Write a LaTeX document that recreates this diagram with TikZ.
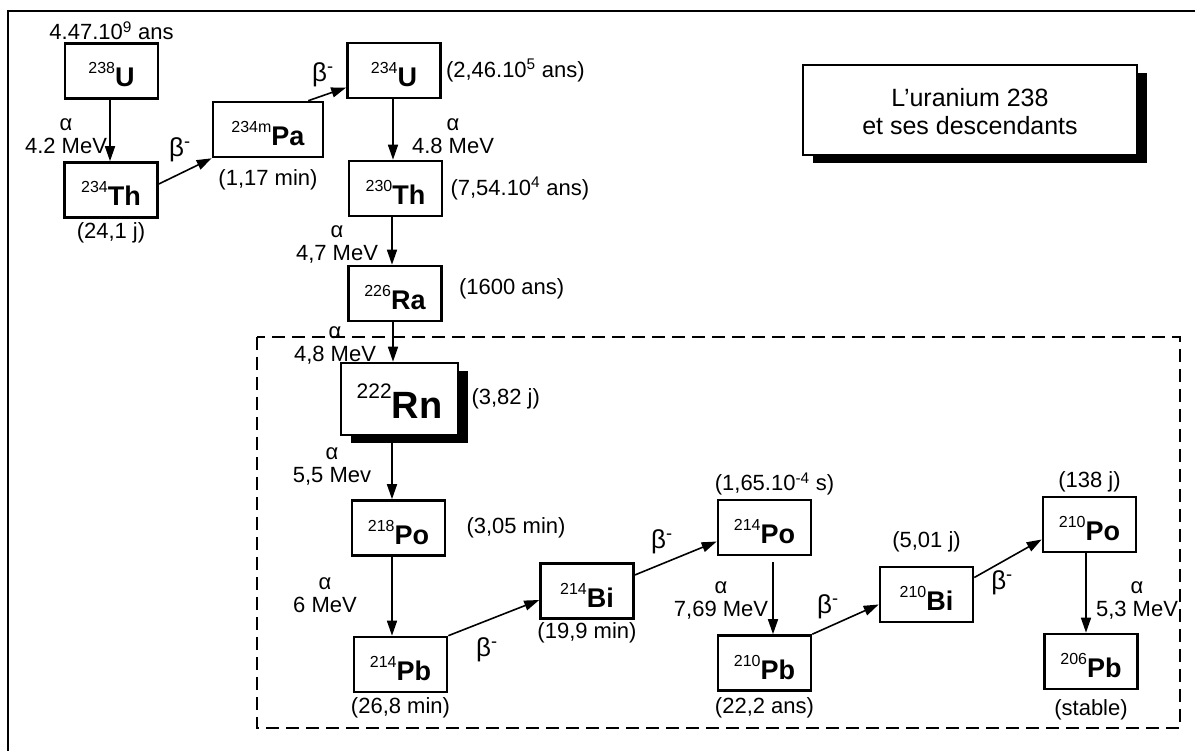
\documentclass[tikz,border=0pt]{standalone}
\usepackage{fontspec}
\setmainfont{Liberation Sans}
\usetikzlibrary{arrows.meta,positioning,shadows}

\newcommand{\iso}[2]{\raisebox{13pt}{\fontsize{16}{16}\selectfont #1}\textbf{#2}}
\newcommand{\isobig}[2]{\raisebox{20pt}{\fontsize{21}{21}\selectfont #1}\textbf{#2}}

\begin{document}
\begin{tikzpicture}[x=1pt,y=-1pt,
    nucl/.style={draw,line width=2.6pt,fill=white,minimum width=93pt,minimum height=55pt,inner sep=0pt,text height=32pt,text depth=0pt,font=\fontsize{27}{27}\selectfont},
    nuclbig/.style={nucl,minimum width=117pt,minimum height=72pt,text height=38pt,font=\fontsize{38}{38}\selectfont,drop shadow={shadow xshift=10pt,shadow yshift=-8pt,fill=black,opacity=1}},
    titlebox/.style={draw,line width=1.8pt,fill=white,minimum width=334pt,minimum height=90pt,align=center,text height=50pt,font=\fontsize{25}{28}\selectfont,drop shadow={shadow xshift=10pt,shadow yshift=-8pt,fill=black,opacity=1}},
    halflife/.style={inner sep=0pt,font=\fontsize{22}{24}\selectfont},
    decaylbl/.style={inner sep=0pt,align=center,font=\fontsize{22}{23}\selectfont},
    betalbl/.style={inner sep=0pt,font=\fontsize{26}{26}\selectfont},
    decay/.style={-{Triangle[length=15pt,width=10pt]},line width=1.6pt}
  ]
    \useasboundingbox (0,0) rectangle (1195,751);
    \draw[line width=2.4pt] (8,751) -- (8,11) -- (1195,11);
    \draw[line width=2pt,dash pattern=on 13pt off 7pt] (257,337) rectangle (1180,728);

    \node[titlebox] (title) at (970,110) {L'uranium 238\\et ses descendants};

    % the chain
    \node[nucl] (u238) at (111.5,71) {\iso{238}{U}};
    \node[nucl] (th234) at (111,190) {\iso{234}{Th}};
    \node[nucl,minimum width=110pt] (pa234) at (268,129.5) {\iso{234m}{Pa}};
    \node[nucl] (u234) at (394,70.5) {\iso{234}{U}};
    \node[nucl] (th230) at (395.5,188.5) {\iso{230}{Th}};
    \node[nucl] (ra226) at (395,293.5) {\iso{226}{Ra}};
    \node[nuclbig] (rn222) at (399.5,399) {\isobig{222}{Rn}};
    \node[nucl] (po218) at (398.5,528) {\iso{218}{Po}};
    \node[nucl] (pb214) at (400.5,664.5) {\iso{214}{Pb}};
    \node[nucl] (bi214) at (587,591) {\iso{214}{Bi}};
    \node[nucl] (po214) at (764.5,527.5) {\iso{214}{Po}};
    \node[nucl] (pb210) at (764.5,663) {\iso{210}{Pb}};
    \node[nucl] (bi210) at (926.5,594.5) {\iso{210}{Bi}};
    \node[nucl] (po210) at (1089.5,524.5) {\iso{210}{Po}};
    \node[nucl] (pb206) at (1091,661.5) {\iso{206}{Pb}};

    % half-lives
    \node[halflife,above=2pt of u238] (tu238) {4.47.10\textsuperscript{9} ans};
    \node[halflife,below=4pt of th234] (tth234) {(24,1 j)};
    \node[halflife,below=11pt of pa234] (tpa234) {(1,17 min)};
    \node[halflife,right=4pt of u234] (tu234) {(2,46.10\textsuperscript{5} ans)};
    \node[halflife,right=7pt of th230] (tth230) {(7,54.10\textsuperscript{4} ans)};
    \node[halflife,right=16pt of ra226,yshift=5pt] (tra226) {(1600 ans)};
    \node[halflife,right=12pt of rn222] (trn222) {(3,82 j)};
    \node[halflife,right=20pt of po218] (tpo218) {(3,05 min)};
    \node[halflife,below=4pt of pb214] (tpb214) {(26,8 min)};
    \node[halflife,below=3pt of bi214] (tbi214) {(19,9 min)};
    \node[halflife,above=3pt of po214,xshift=10pt] (tpo214) {(1,65.10\textsuperscript{-4} s)};
    \node[halflife,below=6pt of pb210] (tpb210) {(22,2 ans)};
    \node[halflife,above=13pt of bi210] (tbi210) {(5,01 j)};
    \node[halflife,above=3pt of po210] (tpo210) {(138 j)};
    \node[halflife,below=9pt of pb206] (tpb206) {(stable)};

    % decays
    \node[decaylbl] (a1) at (66,136) {α\\4.2 MeV};
    \node[betalbl] (b1) at (180,150) {β\textsuperscript{-}};
    \node[betalbl] (b2) at (323,75) {β\textsuperscript{-}};
    \node[decaylbl] (a2) at (453,136) {α\\4.8 MeV};
    \node[decaylbl] (a3) at (337,244) {α\\4,7 MeV};
    \node[decaylbl] (a4) at (335,345) {α\\4,8 MeV};
    \node[decaylbl] (a5) at (332,466) {α\\5,5 Mev};
    \node[decaylbl] (a6) at (325,595) {α\\6 MeV};
    \node[betalbl] (b3) at (487,650) {β\textsuperscript{-}};
    \node[betalbl] (b4) at (662,542) {β\textsuperscript{-}};
    \node[decaylbl] (a7) at (721,600) {α\\7,69 MeV};
    \node[betalbl] (b5) at (828,607) {β\textsuperscript{-}};
    \node[betalbl] (b6) at (1002,583) {β\textsuperscript{-}};
    \node[decaylbl] (a8) at (1137,600) {α\\5,3 MeV};

    \draw[decay] ([xshift=-1.5pt]u238.south) -- ([xshift=-1pt]th234.north);
    \draw[decay] ([yshift=6pt]th234.east) -- (pa234.south west);
    \draw[decay] ([xshift=-16pt]pa234.north east) -- ([yshift=-17pt]u234.west);
    \draw[decay] ([xshift=-1pt]u234.south) -- ([xshift=-2.5pt]th230.north);
    \draw[decay] ([xshift=-3.5pt]th230.south) -- ([xshift=-3pt]ra226.north);
    \draw[decay] ([xshift=-2pt]ra226.south) -- ([xshift=-6.5pt]rn222.north);
    \draw[decay] ([xshift=-7.5pt]rn222.south) -- ([xshift=-6.5pt]po218.north);
    \draw[decay] ([xshift=-6.5pt]po218.south) -- ([xshift=-8.5pt]pb214.north);
    \draw[decay] (pb214.north east) -- ([yshift=-9pt]bi214.west);
    \draw[decay] ([yshift=16pt]bi214.east) -- ([yshift=-14pt]po214.west);
    \draw[decay,shorten <=6pt] ([xshift=8.5pt]po214.south) -- ([xshift=8.5pt]pb210.north);
    \draw[decay] (pb210.north east) -- ([yshift=-10pt]bi210.west);
    \draw[decay] ([yshift=17pt]bi210.east) -- ([yshift=-15pt]po210.west);
    \draw[decay] ([xshift=-3.5pt]po210.south) -- ([xshift=-5pt]pb206.north);
\end{tikzpicture}
\end{document}
